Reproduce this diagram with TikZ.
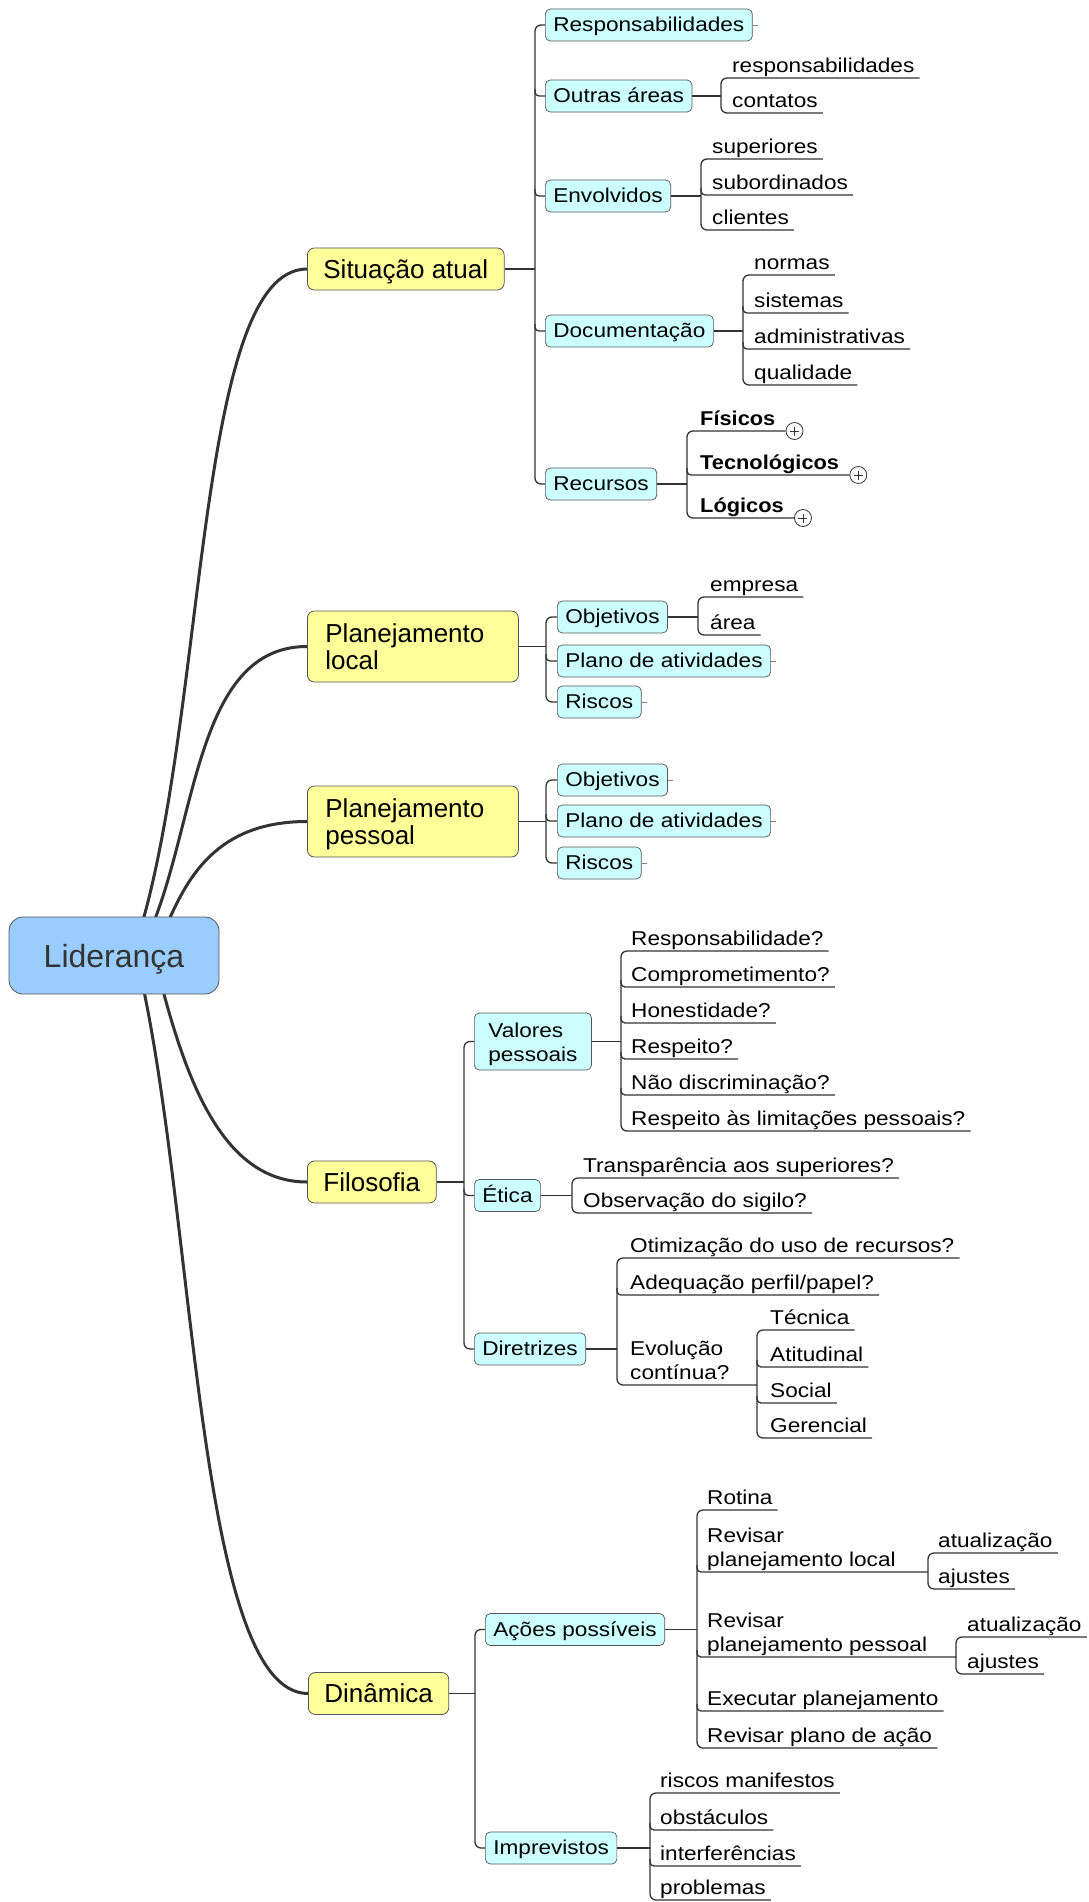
\documentclass[tikz,border=0pt]{standalone}
\usepackage{fontspec}
\setmainfont{Liberation Sans}
\newfontfamily\lf{Liberation Sans}[FakeStretch=1.13]
\newfontfamily\lfb{Liberation Sans}[FakeStretch=1.09]
\usetikzlibrary{calc,backgrounds}

\definecolor{ink}{HTML}{333333}
\definecolor{rootfill}{HTML}{99CCFF}
\definecolor{topicfill}{HTML}{FFFF99}
\definecolor{subfill}{HTML}{CCFFFF}
\definecolor{edge}{HTML}{555555}

\newcommand\leaffont{\lf\fontsize{20}{24}\selectfont}
% two-line texts: [b] keeps the last line on the baseline, [t] the first
\newcommand\twol[2]{\begin{tabular}[b]{@{}l@{}}#1\\#2\end{tabular}}
\newcommand\twot[2]{\begin{tabular}[t]{@{}l@{}}#1\\#2\end{tabular}}

% spine joining boxed children: spine coordinate, first child, last child
\newcommand\bspine[3]{\draw[sub,rounded corners=6pt] (#2.west) -- (#2.west -| #1) -- (#3.west -| #1) -- (#3.west);}
\newcommand\bmid[2]{\draw[sub,rounded corners=4pt] ($(#2.west -| #1)+(0,-7)$) -- (#2.west -| #1) -- (#2.west);}
% spine joining underlined children
\newcommand\lspine[3]{\draw[sub,rounded corners=6pt] ($(#2.south east)+(5,0)$) -- (#2.south -| #1) -- (#3.south -| #1) -- ($(#3.south east)+(5,0)$);}
\newcommand\lmid[2]{\draw[sub,rounded corners=4pt] ($(#2.south -| #1)+(0,-7)$) -- (#2.south -| #1) -- ($(#2.south east)+(5,0)$);}

\tikzset{
  rootnode/.style={draw=edge, fill=rootfill, rounded corners=14pt, minimum width=210pt,
    minimum height=77pt, text=ink, font=\fontsize{32}{38}\selectfont,
    text height=24pt, text depth=1pt, line width=0.8pt},
  topic/.style={draw=edge, fill=topicfill, rounded corners=7pt, font=\fontsize{26}{27}\selectfont,
    inner xsep=16pt, minimum height=42pt, text height=19pt, text depth=1pt, anchor=west, line width=0.8pt},
  topic2/.style={topic, inner xsep=18pt, text height=19pt, text depth=28pt, minimum height=71pt},
  box/.style={draw=edge, fill=subfill, rounded corners=5pt, font=\leaffont, inner xsep=8pt,
    minimum height=32pt, text height=15pt, text depth=2pt, anchor=west, line width=0.7pt},
  box2/.style={box, inner xsep=14pt, text height=15pt, text depth=24pt, minimum height=57pt},
  leaf/.style={font=\leaffont, inner sep=0pt, anchor=south west, text depth=5pt},
  bleaf/.style={leaf, font=\lfb\bfseries\fontsize{20}{24}\selectfont},
  main/.style={draw=ink, line width=3pt},
  sub/.style={draw=ink, line width=1.3pt},
  stub/.style={draw=gray, line width=0.8pt},
  plus/.style={circle, draw=ink, fill=white, line width=0.8pt, minimum size=17pt, inner sep=0pt,
    path picture={\draw[ink, line width=0.8pt]
      ($(path picture bounding box.center)+(-4.5,0)$) -- ($(path picture bounding box.center)+(4.5,0)$)
      ($(path picture bounding box.center)+(0,-4.5)$) -- ($(path picture bounding box.center)+(0,4.5)$);}},
}

\begin{document}
\begin{tikzpicture}[x=1pt,y=-1pt]
\begin{pgfonlayer}{background}
  \fill[white] (0,0) rectangle (1088,1902);
\end{pgfonlayer}
\useasboundingbox (0,0) rectangle (1088,1902);

% ---------- centre and main topics ----------
\node[rootnode] (lid) at (114,955.5) {Liderança};
\node[topic] (sit) at (307,269) {Situação atual};
\node[topic2] (ploc) at (307,646.5) {\twot{\makebox[175pt][l]{Planejamento}}{local}};
\node[topic2] (ppes) at (307,821.5) {\twot{\makebox[175pt][l]{Planejamento}}{pessoal}};
\node[topic] (filo) at (307,1182) {Filosofia};
\node[topic] (din) at (308,1693.5) {Dinâmica};

% ---------- Situação atual ----------
\coordinate (sitS) at (535,269);
\node[box] (resp) at (545,25) {Responsabilidades};
\node[box] (outr) at (545,96) {Outras áreas};
\node[box] (envo) at (545,196) {Envolvidos};
\node[box] (docu) at (545,331) {Documentação};
\node[box] (recu) at (545,484) {Recursos};

\coordinate (outS) at (721,96);
\node[leaf] (or1) at (732,78) {responsabilidades};
\node[leaf] (or2) at (732,113) {contatos};

\coordinate (envS) at (701,196);
\node[leaf] (ev1) at (712,159) {superiores};
\node[leaf] (ev2) at (712,195) {subordinados};
\node[leaf] (ev3) at (712,230) {clientes};

\coordinate (docS) at (743,331);
\node[leaf] (dc1) at (754,275) {normas};
\node[leaf] (dc2) at (754,313) {sistemas};
\node[leaf] (dc3) at (754,349) {administrativas};
\node[leaf] (dc4) at (754,385) {qualidade};

\coordinate (recS) at (687,484);
\node[bleaf] (rc1) at (700,431) {Físicos};
\node[bleaf] (rc2) at (700,475) {Tecnológicos};
\node[bleaf] (rc3) at (700,518) {Lógicos};
\node[plus] (pc1) at ($(rc1.south east)+(19,0)$) {};
\node[plus] (pc2) at ($(rc2.south east)+(19,0)$) {};
\node[plus] (pc3) at ($(rc3.south east)+(19,0)$) {};

% ---------- Planejamento local ----------
\coordinate (plS) at (546,646.5);
\node[box] (ob1) at (557,617) {Objetivos};
\node[box] (pa1) at (557,661) {Plano de atividades};
\node[box] (ri1) at (557,702) {Riscos};
\coordinate (obS) at (698,617);
\node[leaf] (oe1) at (710,597) {empresa};
\node[leaf] (oe2) at (710,635) {área};

% ---------- Planejamento pessoal ----------
\coordinate (ppS) at (546,821.5);
\node[box] (ob2) at (557,780) {Objetivos};
\node[box] (pa2) at (557,821) {Plano de atividades};
\node[box] (ri2) at (557,863) {Riscos};

% ---------- Filosofia ----------
\coordinate (fiS) at (464,1182);
\node[box2] (val) at (474,1041.5) {\twot{Valores}{pessoais}};
\node[box] (eti) at (474,1195.5) {Ética};
\node[box] (dir) at (474,1349) {Diretrizes};

\coordinate (vaS) at (621,1041.5);
\node[leaf] (va1) at (631,951) {Responsabilidade?};
\node[leaf] (va2) at (631,987) {Comprometimento?};
\node[leaf] (va3) at (631,1023) {Honestidade?};
\node[leaf] (va4) at (631,1059) {Respeito?};
\node[leaf] (va5) at (631,1095) {Não discriminação?};
\node[leaf] (va6) at (631,1131) {Respeito às limitações pessoais?};

\coordinate (etS) at (572,1195.5);
\node[leaf] (et1) at (583,1178) {Transparência aos superiores?};
\node[leaf] (et2) at (583,1213) {Observação do sigilo?};

\coordinate (diS) at (617,1349);
\node[leaf] (di1) at (630,1258) {Otimização do uso de recursos?};
\node[leaf] (di2) at (630,1295) {Adequação perfil/papel?};
\node[leaf] (di3) at (630,1385) {\twol{Evolução}{contínua?}};

\coordinate (evS) at (757,1385);
\node[leaf] (ec1) at (770,1330) {Técnica};
\node[leaf] (ec2) at (770,1367) {Atitudinal};
\node[leaf] (ec3) at (770,1403) {Social};
\node[leaf] (ec4) at (770,1438) {Gerencial};

% ---------- Dinâmica ----------
\coordinate (dnS) at (475,1693.5);
\node[box] (aco) at (485,1629.5) {Ações possíveis};
\node[box] (imp) at (485,1848) {Imprevistos};

\coordinate (acS) at (697,1629.5);
\node[leaf] (ac1) at (707,1510) {Rotina};
\node[leaf] (ac2) at (707,1572) {\twol{Revisar}{planejamento local}};
\node[leaf] (ac3) at (707,1657) {\twol{Revisar}{planejamento pessoal}};
\node[leaf] (ac4) at (707,1711) {Executar planejamento};
\node[leaf] (ac5) at (707,1748) {Revisar plano de ação};

\coordinate (rlS) at (928,1572);
\node[leaf] (rl1) at (938,1553) {atualização};
\node[leaf] (rl2) at (938,1589) {ajustes};

\coordinate (rpS) at (956,1657);
\node[leaf] (rp1) at (967,1637) {atualização};
\node[leaf] (rp2) at (967,1674) {ajustes};

\coordinate (imS) at (650,1848);
\node[leaf] (im1) at (660,1793) {riscos manifestos};
\node[leaf] (im2) at (660,1830) {obstáculos};
\node[leaf] (im3) at (660,1866) {interferências};
\node[leaf] (im4) at (660,1900) {problemas};

% ---------- connectors ----------
\begin{pgfonlayer}{background}
  % thick curves from the centre
  \draw[main] ($(lid.center)+(18,0)$) .. controls (208,740) and (192,269) .. (sit.west);
  \draw[main] ($(lid.center)+(24,0)$) .. controls (198,850) and (187,646.5) .. (ploc.west);
  \draw[main] ($(lid.center)+(40,0)$) .. controls (178,900) and (200,821.5) .. (ppes.west);
  \draw[main] ($(lid.center)+(40,0)$) .. controls (180,1060) and (215,1182) .. (filo.west);
  \draw[main] ($(lid.center)+(22,0)$) .. controls (196,1200) and (195,1693.5) .. (din.west);

  % Situação atual
  \draw[sub] (sit.east) -- (sitS);
  \bspine{sitS}{resp}{recu}
  \bmid{sitS}{outr} \bmid{sitS}{envo} \bmid{sitS}{docu}
  \draw[stub] (resp.east) -- ++(5,0);

  \draw[sub] (outr.east) -- (outr.east -| outS);
  \lspine{outS}{or1}{or2}

  \draw[sub] (envo.east) -- (envo.east -| envS);
  \lspine{envS}{ev1}{ev3} \lmid{envS}{ev2}

  \draw[sub] (docu.east) -- (docu.east -| docS);
  \lspine{docS}{dc1}{dc4} \lmid{docS}{dc2} \lmid{docS}{dc3}

  \draw[sub] (recu.east) -- (recu.east -| recS);
  \draw[sub,rounded corners=6pt] (pc1.west) -- (rc1.south -| recS) -- (rc3.south -| recS) -- (pc3.west);
  \draw[sub,rounded corners=4pt] ($(rc2.south -| recS)+(0,-7)$) -- (rc2.south -| recS) -- (pc2.west);

  % Planejamento local
  \draw[sub] (ploc.east) -- (plS);
  \bspine{plS}{ob1}{ri1} \bmid{plS}{pa1}
  \draw[sub] (ob1.east) -- (ob1.east -| obS);
  \lspine{obS}{oe1}{oe2}
  \draw[stub] (pa1.east) -- ++(5,0);
  \draw[stub] (ri1.east) -- ++(5,0);

  % Planejamento pessoal
  \draw[sub] (ppes.east) -- (ppS);
  \bspine{ppS}{ob2}{ri2} \bmid{ppS}{pa2}
  \draw[stub] (ob2.east) -- ++(5,0);
  \draw[stub] (pa2.east) -- ++(5,0);
  \draw[stub] (ri2.east) -- ++(5,0);

  % Filosofia
  \draw[sub] (filo.east) -- (fiS);
  \bspine{fiS}{val}{dir} \bmid{fiS}{eti}

  \draw[sub] (val.east) -- (vaS);
  \lspine{vaS}{va1}{va6}
  \lmid{vaS}{va2} \lmid{vaS}{va3} \lmid{vaS}{va4} \lmid{vaS}{va5}

  \draw[sub] (eti.east) -- (etS);
  \lspine{etS}{et1}{et2}

  \draw[sub] (dir.east) -- (diS);
  \draw[sub,rounded corners=6pt] ($(di1.south east)+(5,0)$) -- (di1.south -| diS) -- (di3.south -| diS) -- (di3.south -| evS);
  \lmid{diS}{di2}
  \lspine{evS}{ec1}{ec4} \lmid{evS}{ec2} \lmid{evS}{ec3}

  % Dinâmica
  \draw[sub] (din.east) -- (dnS);
  \bspine{dnS}{aco}{imp}

  \draw[sub] (aco.east) -- (acS);
  \lspine{acS}{ac1}{ac5}
  \draw[sub,rounded corners=4pt] ($(ac2.south -| acS)+(0,-7)$) -- (ac2.south -| acS) -- (ac2.south -| rlS);
  \draw[sub,rounded corners=4pt] ($(ac3.south -| acS)+(0,-7)$) -- (ac3.south -| acS) -- (ac3.south -| rpS);
  \lmid{acS}{ac4}
  \lspine{rlS}{rl1}{rl2}
  \lspine{rpS}{rp1}{rp2}

  \draw[sub] (imp.east) -- (imS);
  \lspine{imS}{im1}{im4} \lmid{imS}{im2} \lmid{imS}{im3}
\end{pgfonlayer}
\end{tikzpicture}
\end{document}
